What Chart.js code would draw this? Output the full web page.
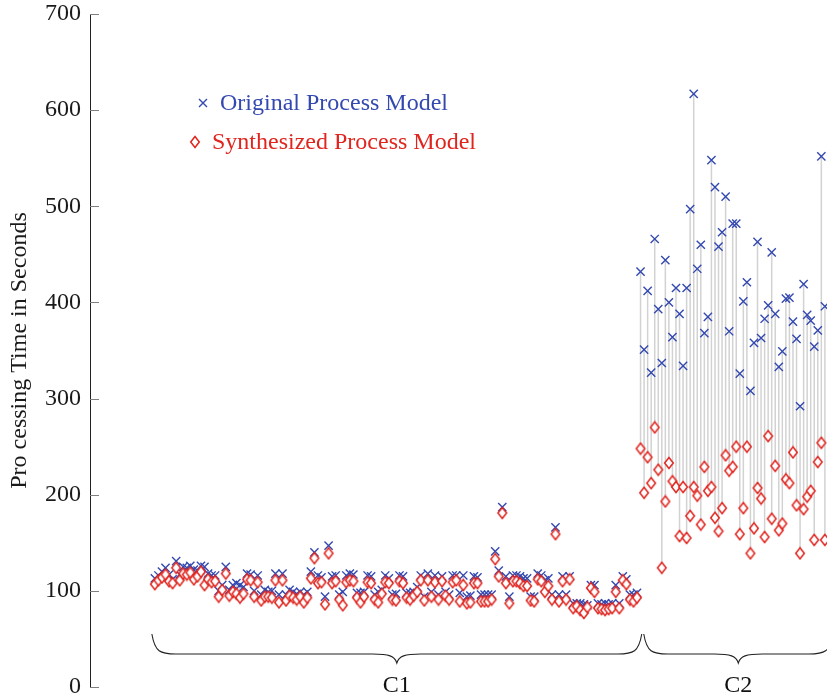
<!DOCTYPE html>
<html>
<head>
<meta charset="utf-8">
<script src="https://cdn.jsdelivr.net/npm/chart.js@4.4.0/dist/chart.umd.min.js"></script>
<style>
  html, body { margin: 0; padding: 0; background: #fff; }
</style>
</head>
<body>
<canvas id="chart" width="827" height="699"></canvas>
<script>
// processing times (seconds) per trace, cluster C1 then C2
var c1Original = [
  113,116,120,124,117,112,131,117,125,124,126,122,121,126,125,118,116,116,100,106,
  125,101,106,108,106,104,118,117,100,116,96,101,99,100,118,96,118,96,101,99,97,
  99,96,99,120,140,116,114,94,147,115,116,96,99,116,118,117,98,98,99,116,
  115,96,99,101,116,113,96,97,116,115,98,98,99,104,116,94,118,99,116,96,115,99,96,116,
  116,98,116,94,95,115,114,96,96,96,96,141,121,187,115,94,116,116,115,113,
  113,94,94,118,116,111,113,96,166,96,115,96,115,87,87,87,86,85,106,106,
  87,86,87,86,87,106,87,115,112,96,96,98
];
var c1Synth = [
  107,111,114,117,110,108,124,111,118,117,119,112,115,120,106,112,109,110,94,101,
  118,95,99,97,93,97,112,111,94,109,90,94,94,93,111,88,111,90,95,93,91,
  94,88,93,113,134,108,109,86,139,108,110,91,85,109,111,110,93,88,94,109,
  108,91,88,97,109,108,91,90,110,108,93,91,95,99,111,90,111,94,109,91,110,95,91,109,
  111,89,106,87,88,108,108,89,89,89,91,133,115,181,108,87,110,110,108,105,
  105,90,89,112,110,99,105,91,159,89,110,91,112,82,84,80,77,83,103,99,
  82,81,80,81,82,99,82,111,107,91,89,93
];
var c2Original = [
  432,351,412,327,466,393,337,444,400,364,415,388,334,415,497,617,435,460,368,385,
  548,520,458,473,510,370,482,482,326,401,421,308,358,463,363,383,397,452,388,333,
  349,404,405,380,362,292,419,387,381,354,371,552,396
];
var c2Synth = [
  248,202,239,212,270,226,124,193,233,214,208,157,208,155,178,208,199,169,229,204,
  208,176,162,186,241,225,229,250,159,186,250,139,165,207,196,156,261,175,230,163,
  170,216,212,244,189,139,185,198,204,153,234,254,153
];
var clusters = ['C1', 'C2'];
var seriesNames = ['Original Process Model', 'Synthesized Process Model'];

var blue = '#3449b0';
var red = '#e0251f';
var serif = '"Liberation Serif", "DejaVu Serif", serif';

var original = c1Original.concat(c2Original);
var synth = c1Synth.concat(c2Synth);
var origPts = original.map(function (v, i) { return {x: i, y: v}; });
var synthPts = synth.map(function (v, i) { return {x: i, y: v}; });

function diamondImg() {
  var c = document.createElement('canvas');
  c.width = 12; c.height = 14;
  var g = c.getContext('2d');
  g.strokeStyle = red;
  g.fillStyle = '#fff';
  g.lineWidth = 1.5;
  g.beginPath();
  g.moveTo(6, 1.5); g.lineTo(10.3, 7); g.lineTo(6, 12.5); g.lineTo(1.7, 7);
  g.closePath();
  g.fill(); g.stroke();
  return c;
}
var diamond = diamondImg();

// grey stems linking each original point to its synthesized one
var stems = {
  id: 'stems',
  beforeDatasetsDraw: function (chart) {
    var ctx = chart.ctx, x = chart.scales.x, y = chart.scales.y;
    ctx.save();
    ctx.strokeStyle = '#d2d2d2';
    ctx.lineWidth = 1.5;
    for (var i = 0; i < original.length; i++) {
      var px = x.getPixelForValue(i);
      ctx.beginPath();
      ctx.moveTo(px, y.getPixelForValue(original[i]));
      ctx.lineTo(px, y.getPixelForValue(synth[i]));
      ctx.stroke();
    }
    ctx.restore();
  }
};

function brace(ctx, a, b, y0) {
  var m = (a + b) / 2, h = 20, t = 9, r = 24;
  ctx.beginPath();
  ctx.moveTo(a, y0);
  ctx.bezierCurveTo(a + 3, y0 + h - 2, a + r * 0.35, y0 + h, a + r, y0 + h);
  ctx.lineTo(m - r, y0 + h);
  ctx.bezierCurveTo(m - 8, y0 + h, m - 2, y0 + h + 2, m, y0 + h + t);
  ctx.bezierCurveTo(m + 2, y0 + h + 2, m + 8, y0 + h, m + r, y0 + h);
  ctx.lineTo(b - r, y0 + h);
  ctx.bezierCurveTo(b - r * 0.35, y0 + h, b - 3, y0 + h - 2, b, y0);
  ctx.stroke();
}

var extras = {
  id: 'extras',
  afterDraw: function (chart) {
    var ctx = chart.ctx, x = chart.scales.x, y = chart.scales.y;
    var area = chart.chartArea;
    ctx.save();
    // inward tick marks
    ctx.strokeStyle = '#808080';
    ctx.lineWidth = 1;
    y.ticks.forEach(function (t) {
      var py = Math.round(y.getPixelForValue(t.value)) + 0.5;
      ctx.beginPath();
      ctx.moveTo(area.left, py);
      ctx.lineTo(area.left + 9, py);
      ctx.stroke();
    });

    // cluster braces
    var n1 = c1Original.length, n = original.length;
    var spans = [
      [x.getPixelForValue(0) - 3, x.getPixelForValue(n1 - 0.5) + 3],
      [x.getPixelForValue(n1 - 0.5) + 5, x.getPixelForValue(n - 1) + 8]
    ];
    ctx.strokeStyle = '#222';
    ctx.lineWidth = 1.1;
    ctx.fillStyle = '#111';
    ctx.font = '24px ' + serif;
    ctx.textAlign = 'center';
    ctx.textBaseline = 'middle';
    spans.forEach(function (s, i) {
      brace(ctx, s[0], s[1], 634);
      ctx.fillText(clusters[i], (s[0] + s[1]) / 2, 686);
    });

    // legend
    ctx.textAlign = 'left';
    ctx.lineWidth = 1.4;
    ctx.strokeStyle = blue;
    ctx.beginPath();
    ctx.moveTo(199, 99); ctx.lineTo(207, 107);
    ctx.moveTo(207, 99); ctx.lineTo(199, 107);
    ctx.stroke();
    ctx.fillStyle = blue;
    ctx.fillText(seriesNames[0], 220, 104);
    ctx.drawImage(diamond, 189, 135);
    ctx.fillStyle = red;
    ctx.fillText(seriesNames[1], 212, 143);
    ctx.restore();
  }
};

new Chart(document.getElementById('chart'), {
  type: 'scatter',
  data: {
    datasets: [
      {
        label: seriesNames[1],
        data: synthPts,
        pointStyle: diamond,
        clip: false,
        order: 0
      },
      {
        label: seriesNames[0],
        data: origPts,
        pointStyle: 'crossRot',
        pointRadius: 5.8,
        borderColor: blue,
        borderWidth: 1.4,
        clip: false,
        order: 1
      }
    ]
  },
  options: {
    responsive: false,
    animation: false,
    layout: { autoPadding: false, padding: { top: 14, bottom: 12, left: 0, right: 0 } },
    plugins: { legend: { display: false }, tooltip: { enabled: false } },
    scales: {
      x: {
        type: 'linear',
        display: false,
        min: -18.3,
        max: 189.6
      },
      y: {
        min: 0,
        max: 700,
        afterFit: function (scale) {
          scale.width = 90;
          scale.paddingTop = 0;
          scale.paddingBottom = 0;
        },
        ticks: {
          stepSize: 100,
          padding: 9,
          color: '#1a1a1a',
          font: { family: serif, size: 24 }
        },
        grid: { display: false, drawTicks: false },
        border: { display: true, color: '#222', width: 1 },
        title: {
          display: true,
          text: 'Pro cessing Time in Seconds',
          color: '#1a1a1a',
          font: { family: serif, size: 24 },
          padding: { top: 5, bottom: 0 }
        }
      }
    }
  },
  plugins: [stems, extras]
});
</script>
</body>
</html>
